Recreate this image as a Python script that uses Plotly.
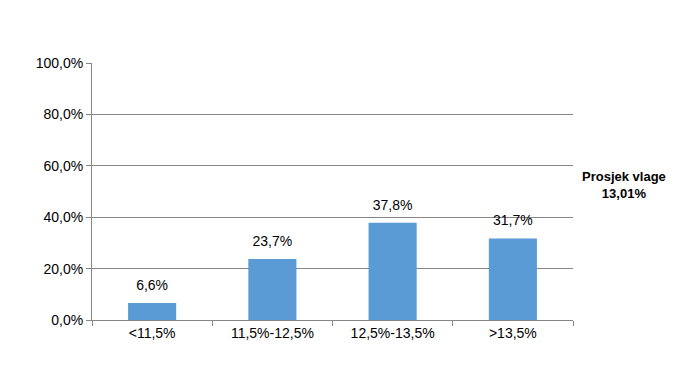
import plotly.graph_objects as go

categories = ["<11,5%", "11,5%-12,5%", "12,5%-13,5%", ">13,5%"]
values = [6.6, 23.7, 37.8, 31.7]
y_ticks = [0, 20, 40, 60, 80, 100]
y_tick_labels = ["0,0%", "20,0%", "40,0%", "60,0%", "80,0%", "100,0%"]
note_title = "Prosjek vlage"
note_value = "13,01%"

fig = go.Figure()
fig.add_trace(go.Bar(
    x=categories, y=values,
    marker=dict(color="#5B9BD5", line=dict(width=0)),
))
fig.add_trace(go.Scatter(
    x=categories, y=values,
    mode="markers+text",
    marker=dict(size=14, opacity=0),
    text=[f"{v:.1f}%".replace(".", ",") for v in values],
    textposition="top center",
    textfont=dict(size=14, color="#000000"),
    cliponaxis=False, hoverinfo="skip",
))
fig.update_layout(
    width=699, height=390,
    margin=dict(l=84, r=134, t=55, b=78, autoexpand=False),
    paper_bgcolor="white", plot_bgcolor="white",
    separators=",.",
    font=dict(family="Liberation Sans, Arial, sans-serif", size=14, color="#000000"),
    bargap=0.6,
    showlegend=False,
    xaxis=dict(
        showgrid=False, showline=True, linecolor="#868686", linewidth=1,
        ticks="outside", tickson="boundaries", ticklen=5, tickcolor="#868686",
        tickfont=dict(size=14), automargin=False,
    ),
    yaxis=dict(
        range=[0, 100], tickvals=y_ticks, ticktext=y_tick_labels,
        showgrid=True, gridcolor="#868686", gridwidth=1,
        showline=True, linecolor="#868686", linewidth=1,
        ticks="outside", ticklen=5, tickcolor="#868686",
        zeroline=False, tickfont=dict(size=14), automargin=False,
    ),
    annotations=[dict(
        xref="paper", yref="paper", x=1.0 + 51/481, y=(320-185)/257,
        text=f"<b>{note_title}<br>{note_value}</b>", showarrow=False,
        xanchor="center", yanchor="middle", font=dict(size=13),
    )],
)
fig.write_html("out.html")
